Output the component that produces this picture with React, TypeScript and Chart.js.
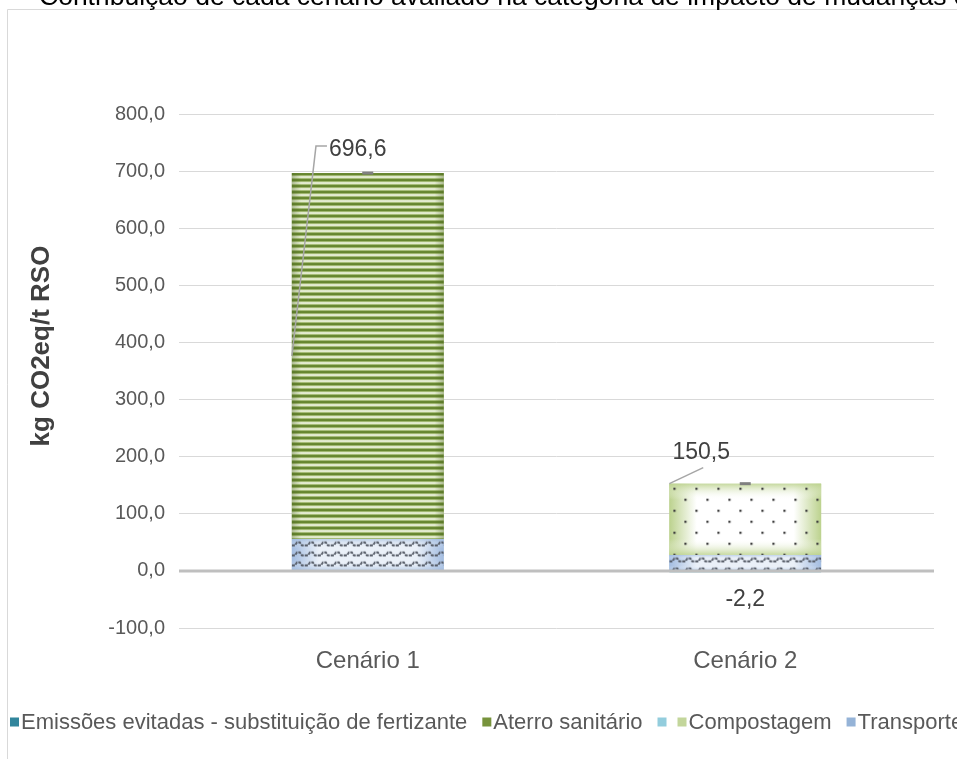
import React, { useEffect, useRef } from "react";
import { Chart, registerables } from "chart.js";

Chart.register(...registerables);

// ---------- data ----------
const categories = ["Cenário 1", "Cenário 2"];
const transporte = [56.0, 28.0];
const aterroSanitario = [640.6, 0];
const compostagem = [0, 124.7];
const emissoesEvitadas = [0, -2.2];
const serieSemNome = [0, 0];

const yMin = -100;
const yMax = 800;
const yStep = 100;

const titleText =
  "Contribuição de cada cenário avaliado na categoria de impacto de mudanças climáticas";
const yAxisTitle = "kg CO2eq/t RSO";
const legendNames = [
  "Emissões evitadas - substituição de fertizante",
  "Aterro sanitário",
  "",
  "Compostagem",
  "Transporte",
];
const legendColors = ["#31859c", "#77933c", "#93cddd", "#c3d69b", "#95b3d7"];

const FONT = '"Liberation Sans", Arial, sans-serif';
const fmt = (v: number) => v.toFixed(1).replace(".", ",");

// ---------- patterns ----------
function makeTile(w: number, h: number, draw: (g: CanvasRenderingContext2D) => void) {
  const c = document.createElement("canvas");
  c.width = w;
  c.height = h;
  const g = c.getContext("2d") as CanvasRenderingContext2D;
  draw(g);
  return c;
}

const stripeTile = () =>
  makeTile(4, 6, (g) => {
    g.fillStyle = "#e3ebcf";
    g.fillRect(0, 0, 4, 6);
    g.fillStyle = "#66862f";
    g.fillRect(0, 0, 4, 2);
    g.fillStyle = "#a3ba74";
    g.fillRect(0, 2, 4, 1);
    g.fillRect(0, 5, 4, 1);
  });

const waveTile = () =>
  makeTile(13, 10, (g) => {
    g.strokeStyle = "#555b66";
    g.lineWidth = 1.8;
    g.setLineDash([3, 1]);
    g.beginPath();
    g.moveTo(0, 6.5);
    g.lineTo(3, 6.5);
    g.lineTo(5, 3.5);
    g.lineTo(8, 3.5);
    g.lineTo(10, 6.5);
    g.lineTo(13, 6.5);
    g.stroke();
  });

const dotTile = () =>
  makeTile(22, 22, (g) => {
    g.fillStyle = "#3f3f3f";
    g.fillRect(4, 4, 2.2, 2.2);
    g.fillRect(15, 15, 2.2, 2.2);
  });

function fillPattern(
  c: CanvasRenderingContext2D,
  tile: HTMLCanvasElement,
  left: number,
  top: number,
  w: number,
  h: number
) {
  const p = c.createPattern(tile, "repeat");
  if (!p) return;
  try {
    p.setTransform(new DOMMatrix().translate(left, top));
  } catch (e) {}
  c.fillStyle = p;
  c.fillRect(left, top, w, h);
}

function shadedRect(
  c: CanvasRenderingContext2D,
  left: number,
  top: number,
  w: number,
  h: number,
  edge: string,
  center: string,
  edgeAlpha: string
) {
  const gh = c.createLinearGradient(left, 0, left + w, 0);
  gh.addColorStop(0, edge);
  gh.addColorStop(0.18, center);
  gh.addColorStop(0.82, center);
  gh.addColorStop(1, edge);
  c.fillStyle = gh;
  c.fillRect(left, top, w, h);
  const gv = c.createLinearGradient(0, top, 0, top + h);
  const band = Math.min(0.3, 16 / Math.max(h, 1));
  gv.addColorStop(0, edgeAlpha);
  gv.addColorStop(band, "rgba(255,255,255,0)");
  gv.addColorStop(1 - band, "rgba(255,255,255,0)");
  gv.addColorStop(1, edgeAlpha);
  c.fillStyle = gv;
  c.fillRect(left, top, w, h);
}

function rectOf(el: any) {
  const { x, y, base, width } = el.getProps(["x", "y", "base", "width"], true);
  return {
    x,
    left: x - width / 2,
    top: Math.min(y, base),
    w: width,
    h: Math.abs(base - y),
  };
}

// ---------- plugin ----------
const decorPlugin = {
  id: "decor",
  beforeDraw(chart: any) {
    const c: CanvasRenderingContext2D = chart.ctx;
    c.save();
    c.fillStyle = "#ffffff";
    c.fillRect(0, 0, chart.width, chart.height);
    // outer frame
    c.strokeStyle = "#d9d9d9";
    c.lineWidth = 1;
    c.beginPath();
    c.moveTo(7.5, chart.height);
    c.lineTo(7.5, 9.5);
    c.lineTo(chart.width, 9.5);
    c.stroke();
    // (clipped) figure caption
    c.fillStyle = "#000000";
    c.font = `26.5px ${FONT}`;
    c.textBaseline = "alphabetic";
    c.textAlign = "left";
    c.fillText(titleText, 39, 4.5);
    c.restore();
  },
  afterDatasetsDraw(chart: any) {
    const c: CanvasRenderingContext2D = chart.ctx;
    const ys = chart.scales.y;
    const area = chart.chartArea;
    c.save();
    const tiles = { stripe: stripeTile(), wave: waveTile(), dot: dotTile() };

    // Transporte (dataset 0)
    chart.getDatasetMeta(0).data.forEach((el: any) => {
      const r = rectOf(el);
      if (r.h < 0.5) return;
      shadedRect(c, r.left, r.top, r.w, r.h, "#a4bde1", "#eaf0f8", "rgba(150,180,220,0.55)");
      fillPattern(c, tiles.wave, r.left, r.top, r.w, r.h);
    });
    // Aterro sanitário (dataset 1)
    chart.getDatasetMeta(1).data.forEach((el: any) => {
      const r = rectOf(el);
      if (r.h < 0.5) return;
      fillPattern(c, tiles.stripe, r.left, r.top, r.w, r.h);
      const g = c.createLinearGradient(r.left, 0, r.left + r.w, 0);
      g.addColorStop(0, "rgba(70,95,30,0.35)");
      g.addColorStop(0.06, "rgba(70,95,30,0)");
      g.addColorStop(0.94, "rgba(70,95,30,0)");
      g.addColorStop(1, "rgba(70,95,30,0.35)");
      c.fillStyle = g;
      c.fillRect(r.left, r.top, r.w, r.h);
    });
    // Compostagem (dataset 2)
    chart.getDatasetMeta(2).data.forEach((el: any) => {
      const r = rectOf(el);
      if (r.h < 0.5) return;
      shadedRect(c, r.left, r.top, r.w, r.h, "#bcd28e", "#ffffff", "rgba(188,210,142,0.85)");
      fillPattern(c, tiles.dot, r.left, r.top, r.w, r.h);
    });

    // horizontal axis line at zero
    const y0 = ys.getPixelForValue(0);
    c.strokeStyle = "#bfbfbf";
    c.lineWidth = 3;
    c.beginPath();
    c.moveTo(area.left, y0);
    c.lineTo(area.right, y0);
    c.stroke();

    // totals, markers, labels
    const n = categories.length;
    c.font = `23px ${FONT}`;
    for (let i = 0; i < n; i++) {
      const vals = [transporte[i], aterroSanitario[i], compostagem[i], emissoesEvitadas[i], serieSemNome[i]];
      const total = vals.reduce((a, b) => a + b, 0);
      const posSum = vals.filter((v) => v > 0).reduce((a, b) => a + b, 0);
      const el = chart.getDatasetMeta(0).data[i];
      const r = rectOf(el);
      const topPx = ys.getPixelForValue(posSum);
      // total marker
      c.fillStyle = "#808080";
      c.fillRect(r.x - 5.5, topPx - 1.5, 11, 3);

      const text = fmt(total);
      const tw = c.measureText(text).width;
      c.fillStyle = "#404040";
      c.textAlign = "center";
      c.textBaseline = "middle";
      c.strokeStyle = "#a6a6a6";
      c.lineWidth = 1.5;
      if (i === 0) {
        const lx = r.x - 10;
        const ly = topPx - 23;
        c.fillText(text, lx, ly);
        const mid = ys.getPixelForValue(transporte[i] + aterroSanitario[i] / 2);
        c.beginPath();
        c.moveTo(lx - tw / 2 - 2, ly - 4);
        c.lineTo(lx - tw / 2 - 13, ly - 4);
        c.lineTo(r.left, mid);
        c.stroke();
      } else {
        const lx = r.x - 44;
        const ly = topPx - 31;
        c.fillText(text, lx, ly);
        c.beginPath();
        c.moveTo(lx + 2, ly + 15);
        c.lineTo(r.left, topPx);
        c.stroke();
      }
      if (emissoesEvitadas[i] !== 0) {
        c.fillStyle = "#404040";
        c.fillText(fmt(emissoesEvitadas[i]), r.x, y0 + 29);
      }
    }
    c.restore();
  },
  afterDraw(chart: any) {
    const c: CanvasRenderingContext2D = chart.ctx;
    c.save();
    // y-axis title
    c.translate(42, 346);
    c.rotate(-Math.PI / 2);
    c.font = `bold 26px ${FONT}`;
    c.fillStyle = "#404040";
    c.textAlign = "center";
    c.textBaseline = "middle";
    c.fillText(yAxisTitle, 0, 0);
    c.restore();

    // legend
    c.save();
    c.font = `22px ${FONT}`;
    c.textBaseline = "middle";
    c.textAlign = "left";
    let x = 10;
    const y = 722;
    legendNames.forEach((name, i) => {
      c.fillStyle = legendColors[i];
      c.fillRect(x, y - 4.5, 9, 9);
      c.fillStyle = "#595959";
      c.fillText(name, x + 11, y + 1);
      x += 11 + c.measureText(name).width + (name ? 15 : 9);
    });
    c.restore();
  },
};

export default function App() {
  const ref = useRef<HTMLCanvasElement | null>(null);

  useEffect(() => {
    document.body.style.margin = "0";
    const canvas = ref.current;
    if (!canvas) return;
    const chart = new Chart(canvas, {
      type: "bar",
      data: {
        labels: categories,
        datasets: [
          { label: "Transporte", data: transporte, backgroundColor: "#95b3d7" },
          { label: "Aterro sanitário", data: aterroSanitario, backgroundColor: "#77933c" },
          { label: "Compostagem", data: compostagem, backgroundColor: "#c3d69b" },
          { label: legendNames[0], data: emissoesEvitadas, backgroundColor: "#31859c" },
          { label: "", data: serieSemNome, backgroundColor: "#93cddd" },
        ],
      },
      options: {
        responsive: false,
        animation: false,
        devicePixelRatio: 1,
        events: [],
        datasets: { bar: { barPercentage: 0.402, categoryPercentage: 1 } },
        layout: { padding: { left: 0, top: 114, right: 23, bottom: 0 } },
        plugins: { legend: { display: false }, title: { display: false }, tooltip: { enabled: false } },
        scales: {
          x: {
            stacked: true,
            grid: { display: false, drawTicks: false, tickLength: 0 },
            border: { display: false },
            ticks: { color: "#595959", font: { family: FONT, size: 24 }, padding: 19 },
            afterFit: (s: any) => {
              s.height = 131;
            },
          },
          y: {
            stacked: true,
            min: yMin,
            max: yMax,
            grid: { color: "#d9d9d9", lineWidth: 1, drawTicks: false, tickLength: 0 },
            border: { display: false },
            ticks: {
              stepSize: yStep,
              color: "#595959",
              font: { family: FONT, size: 20 },
              padding: 14,
              callback: (v: any) => fmt(Number(v)),
            },
            afterFit: (s: any) => {
              s.width = 179;
            },
          },
        },
      },
      plugins: [decorPlugin],
    });
    return () => chart.destroy();
  }, []);

  return (
    <div style={{ position: "fixed", left: 0, top: 0, width: 957, height: 759 }}>
      <canvas ref={ref} width={957} height={759} style={{ width: 957, height: 759, display: "block" }} />
    </div>
  );
}
